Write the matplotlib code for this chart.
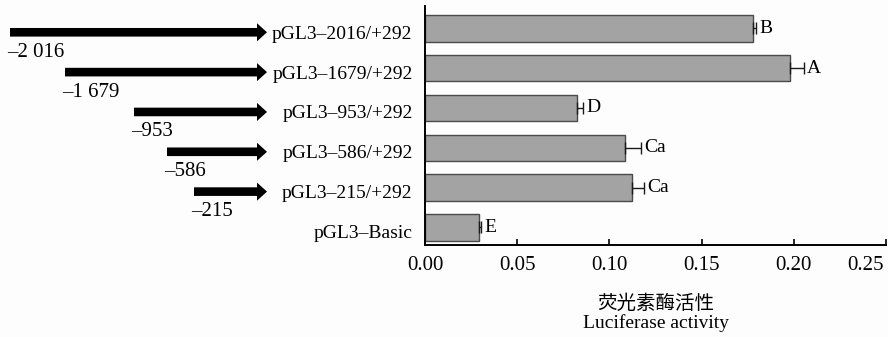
import numpy as np
import matplotlib.pyplot as plt
from matplotlib.transforms import ScaledTranslation

plt.rcParams['font.family'] = ['Liberation Serif', 'Noto Sans CJK SC']
plt.rcParams['font.size'] = 14

# constructs, top to bottom
labels = ['pGL3–2016/+292', 'pGL3–1679/+292', 'pGL3–953/+292',
          'pGL3–586/+292', 'pGL3–215/+292', 'pGL3–Basic']
activity = [0.1777, 0.198, 0.0827, 0.1083, 0.1121, 0.0292]
err = [0.0018, 0.0074, 0.0029, 0.0088, 0.0064, 0.0013]
letters = ['B', 'A', 'D', 'Ca', 'Ca', 'E']

# promoter start points (schematic, left panel) and their labels
arrow_start = [10, 65, 134, 167, 194]
arrow_end = 267
start_labels = ['–2 016', '–1 679', '–953', '–586', '–215']

W, H = 888, 337
fig = plt.figure(figsize=(W / 100, H / 100), dpi=100)
fig.patch.set_facecolor('#fdfdfd')

l, r, t, b = 425 / W, 886 / W, 1 - 6 / H, 1 - 245 / H
ax = fig.add_axes([l, b, r - l, t - b])
ax.set_facecolor('none')
ys = np.arange(len(labels))

ax.barh(ys, activity, height=0.667, color='#a3a3a3', edgecolor='#4a4a4a', linewidth=1.0)
ax.errorbar(activity, ys, xerr=[np.zeros(len(err)), err], fmt='none',
            ecolor='#1a1a1a', elinewidth=1.0, capsize=4.5, capthick=1.0)
for y, v, e, s in zip(ys, activity, err, letters):
    ax.annotate(s, (v + e, y), xytext=(2.5, 0), textcoords='offset points',
                ha='left', va='center', fontsize=14)

ax.set_xlim(0, 0.25)
ax.set_ylim(5.44, -0.56)
ax.set_xticks([0, 0.05, 0.10, 0.15, 0.20, 0.25])
ax.set_xticklabels(['0.00', '0.05', '0.10', '0.15', '0.20', '0.25'])
ax.tick_params(axis='x', direction='in', length=4, width=1.2, pad=8, labelsize=15)
last = ax.get_xticklabels()[-1]
last.set_horizontalalignment('right')
last.set_transform(last.get_transform() + ScaledTranslation(-2 / 100, 0, fig.dpi_scale_trans))

ax.set_yticks(ys)
ax.set_yticklabels(labels)
ax.tick_params(axis='y', length=0, pad=9, labelsize=14)
for lab in ax.get_yticklabels():
    lab.set_transform(lab.get_transform() + ScaledTranslation(0, -4 / 100, fig.dpi_scale_trans))

ax.spines['top'].set_visible(False)
ax.spines['right'].set_visible(False)
ax.spines['left'].set_linewidth(1.4)
ax.spines['bottom'].set_linewidth(1.4)
ax.set_xlabel('荧光素酶活性\nLuciferase activity', fontsize=14, linespacing=1.05, labelpad=14)

# schematic of promoter fragments
ax2 = fig.add_axes([0, b, l, t - b])
ax2.set_xlim(0, 425)
ax2.set_ylim(5.44, -0.56)
ax2.axis('off')
for y, x0, s in zip(ys, arrow_start, start_labels):
    ax2.annotate('', xy=(arrow_end, y + 0.1), xytext=(x0, y + 0.1),
                 arrowprops=dict(arrowstyle='simple,head_length=7.2,head_width=13,tail_width=6.2',
                                 mutation_scale=1, fc='black', ec='black', lw=0,
                                 shrinkA=0, shrinkB=0))
    ax2.text(x0 - 3, y + 0.6, s, ha='left', va='center', fontsize=15)

fig.savefig('out.png', dpi=100, facecolor=fig.get_facecolor())
